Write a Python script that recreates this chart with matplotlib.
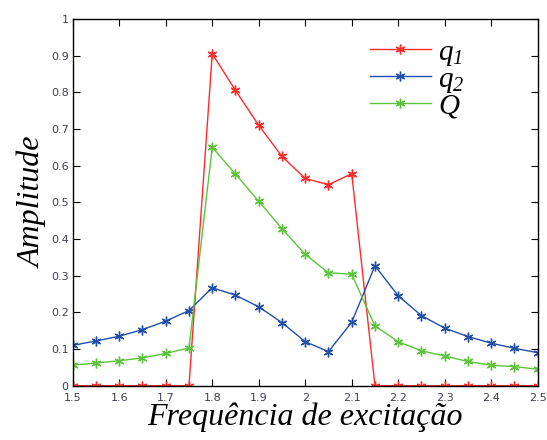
import matplotlib
matplotlib.use('Agg')
import matplotlib.pyplot as plt
import numpy as np

freq = [1.5, 1.55, 1.6, 1.65, 1.7, 1.75, 1.8, 1.85, 1.9, 1.95, 2.0,
        2.05, 2.1, 2.15, 2.2, 2.25, 2.3, 2.35, 2.4, 2.45, 2.5]
q1 = [0, 0, 0, 0, 0, 0, 0.905, 0.805, 0.71, 0.625, 0.565,
      0.548, 0.578, 0, 0, 0, 0, 0, 0, 0, 0]
q2 = [0.11, 0.122, 0.135, 0.153, 0.176, 0.205, 0.267, 0.247, 0.215, 0.172, 0.12,
      0.093, 0.173, 0.327, 0.245, 0.191, 0.157, 0.134, 0.116, 0.102, 0.09]
Q = [0.056, 0.062, 0.068, 0.076, 0.088, 0.103, 0.65, 0.577, 0.503, 0.428, 0.358,
     0.308, 0.304, 0.163, 0.12, 0.095, 0.081, 0.066, 0.056, 0.052, 0.045]

plt.rcParams['mathtext.fontset'] = 'custom'
plt.rcParams['mathtext.it'] = 'Liberation Serif:italic'
plt.rcParams['mathtext.rm'] = 'Liberation Serif:italic'

fig = plt.figure(figsize=(5.47, 4.4), dpi=100)
ax = fig.add_axes([0.133, 0.1234, 0.850, 0.8336])

star = (6, 2, 0)
ax.plot(freq, q1, '-', color='#ff2a2a', marker=star, ms=7, lw=1, mew=1, label='$q_1$')
ax.plot(freq, q2, '-', color='#1f4fa8', marker=star, ms=7, lw=1, mew=1, label='$q_2$')
ax.plot(freq, Q, '-', color='#5cc43a', marker=star, ms=7, lw=1, mew=1, label='$Q$')

ax.set_xlim(1.5, 2.5)
ax.set_ylim(0, 1)
ax.set_xticks(np.arange(1.5, 2.51, 0.1))
ax.set_xticklabels(['1.5', '1.6', '1.7', '1.8', '1.9', '2', '2.1', '2.2', '2.3', '2.4', '2.5'])
ax.set_yticks(np.arange(0, 1.01, 0.1))
ax.set_yticklabels(['0', '0.1', '0.2', '0.3', '0.4', '0.5', '0.6', '0.7', '0.8', '0.9', '1'])
ax.tick_params(direction='in', top=True, right=True, length=5, labelsize=8,
               labelcolor='#404050')
ax.tick_params(axis='x', pad=5)
ax.tick_params(axis='y', pad=3)
for s in ax.spines.values():
    s.set_linewidth(1)

ax.set_xlabel('Frequência de excitação', family='Liberation Serif', style='italic',
              fontsize=23, labelpad=0)
ax.set_ylabel('Amplitude', family='Liberation Serif', style='italic',
              fontsize=23, labelpad=2)

ax.legend(loc='upper left', bbox_to_anchor=(0.595, 1.005), frameon=False, fontsize=21,
          handlelength=2.1, handletextpad=0.25, labelspacing=-0.1, borderaxespad=0.3)

fig.savefig('out.png', dpi=100)
